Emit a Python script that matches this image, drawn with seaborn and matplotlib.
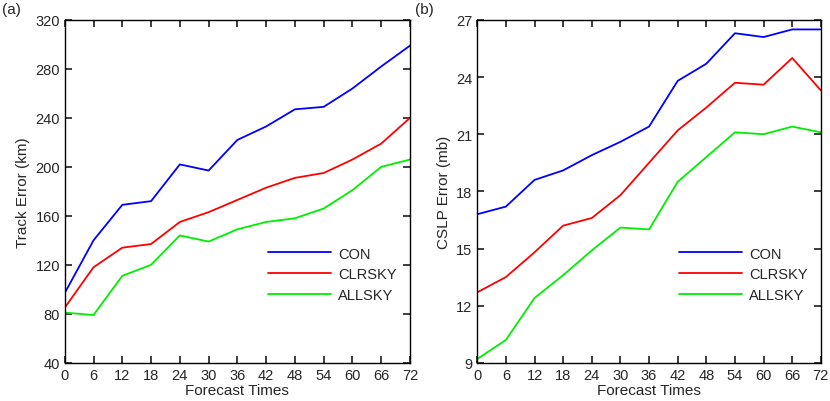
import matplotlib
matplotlib.use("Agg")
import matplotlib.pyplot as plt
import seaborn as sns
import pandas as pd

sns.set_theme(style="ticks")
plt.rcParams["font.family"] = ["Liberation Sans", "DejaVu Sans"]

# ─── Data ─────────────────────────────────────────────────────────────────────
hours = [0, 6, 12, 18, 24, 30, 36, 42, 48, 54, 60, 66, 72]
track_con = [97, 140, 169, 172, 202, 197, 222, 233, 247, 249, 264, 282, 299]
track_clr = [85, 118, 134, 137, 155, 163, 173, 183, 191, 195, 206, 219, 240]
track_all = [81, 79, 111, 120, 144, 139, 149, 155, 158, 166, 181, 200, 206]
cslp_con = [16.8, 17.2, 18.6, 19.1, 19.9, 20.6, 21.4, 23.8, 24.7, 26.3, 26.1, 26.5, 26.5]
cslp_clr = [12.7, 13.5, 14.8, 16.2, 16.6, 17.8, 19.5, 21.2, 22.4, 23.7, 23.6, 25.0, 23.3]
cslp_all = [9.2, 10.2, 12.4, 13.6, 14.9, 16.1, 16.0, 18.5, 19.8, 21.1, 21.0, 21.4, 21.1]

names = ["CON", "CLRSKY", "ALLSKY"]
colors = {"CON": "#0000ff", "CLRSKY": "#ff0000", "ALLSKY": "#00ee00"}


def _long(series):
    rows = []
    for name, vals in zip(names, series):
        for h, v in zip(hours, vals):
            rows.append({"hour": h, "value": v, "exp": name})
    return pd.DataFrame(rows)


fig = plt.figure(figsize=(8.3, 4.02), dpi=100)
ax1 = fig.add_axes([0.078, 0.095, 0.416, 0.853])
ax2 = fig.add_axes([0.575, 0.095, 0.414, 0.853])

panels = [
    (ax1, [track_con, track_clr, track_all], (40, 320), range(40, 321, 40),
     "Track Error (km)", "(a)"),
    (ax2, [cslp_con, cslp_clr, cslp_all], (9, 27), range(9, 28, 3),
     "CSLP Error (mb)", "(b)"),
]

for ax, series, ylim, yticks, ylabel, tag in panels:
    sns.lineplot(data=_long(series), x="hour", y="value", hue="exp",
                 palette=colors, linewidth=1.3, ax=ax)
    ax.set_xlim(0, 72)
    ax.set_ylim(*ylim)
    ax.set_xticks(hours)
    ax.set_yticks(list(yticks))
    ax.set_xlabel("Forecast Times", fontsize=11, labelpad=1)
    ax.set_ylabel(ylabel, fontsize=11)
    ax.tick_params(direction="in", top=True, right=True, labelsize=10.5, length=5)
    for s in ax.spines.values():
        s.set_linewidth(1.0)
        s.set_color("black")
    ax.legend(loc="lower right", frameon=False, fontsize=10.5,
              handlelength=4.3, handletextpad=0.5, labelspacing=0.45,
              bbox_to_anchor=(1.0, 0.14))
    fig.text(ax.get_position().x0 - 0.075, 0.965, tag, fontsize=11)

fig.savefig("out.png", dpi=100)
